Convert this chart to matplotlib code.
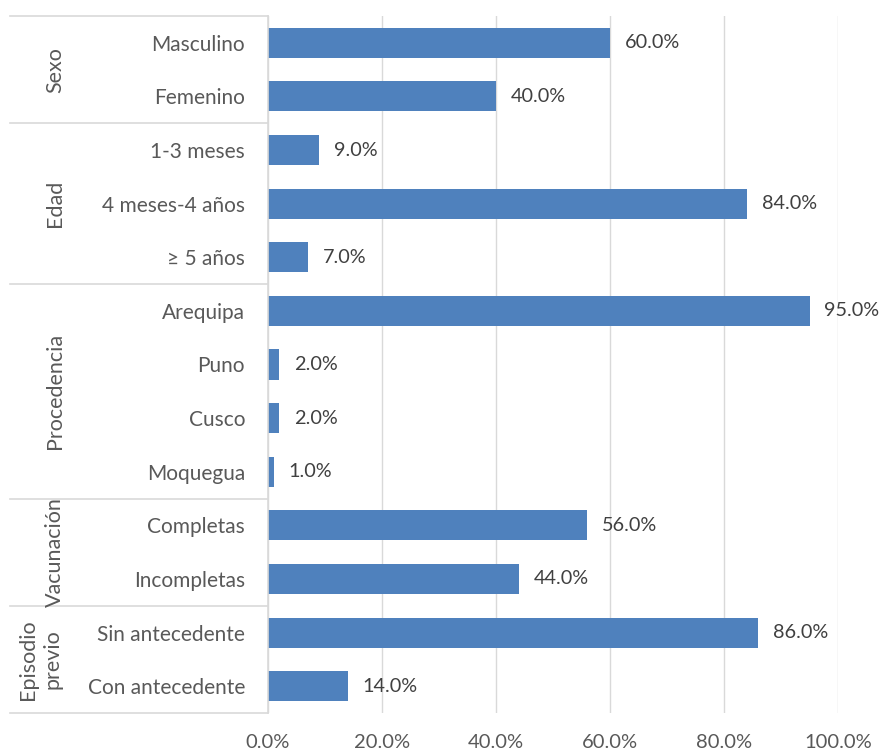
import matplotlib.pyplot as plt
import numpy as np
from matplotlib.transforms import blended_transform_factory

# Datos
categorias = ['Masculino', 'Femenino',
              '1-3 meses', '4 meses-4 años', '≥ 5 años',
              'Arequipa', 'Puno', 'Cusco', 'Moquegua',
              'Completas', 'Incompletas',
              'Sin antecedente', 'Con antecedente']
valores = [60.0, 40.0, 9.0, 84.0, 7.0, 95.0, 2.0, 2.0, 1.0, 56.0, 44.0, 86.0, 14.0]
grupos = ['Sexo', 'Edad', 'Procedencia', 'Vacunación', 'Episodio\nprevio']
tam_grupos = [2, 3, 4, 2, 2]
ticks_x = [0, 20, 40, 60, 80, 100]

plt.rcParams['font.family'] = ['Lato', 'DejaVu Sans']

W, H = 880, 755
fig = plt.figure(figsize=(W / 100, H / 100), dpi=100)
ax = fig.add_axes([268 / W, 1 - 713 / H, (838 - 268) / W, (713 - 16) / H])

y = np.arange(len(categorias))
ax.barh(y, valores, height=0.56, color='#4F81BD')
ax.set_ylim(len(categorias) - 0.5, -0.5)
ax.set_xlim(0, 100)

for yi, v in zip(y, valores):
    ax.text(v + 2.6, yi, f'{v:.1f}%', va='center', ha='left', fontsize=14.3, color='#404040')

ax.set_xticks(ticks_x)
ax.set_xticklabels([f'{t:.1f}%' for t in ticks_x], fontsize=14.5, color='#595959')
ax.tick_params(axis='x', length=0, pad=15)
ax.set_yticks(y)
ax.set_yticklabels(categorias, fontsize=15, color='#595959')
ax.tick_params(axis='y', length=0, pad=16.5)
ax.grid(axis='x', color='#D9D9D9', linewidth=1)
ax.set_axisbelow(True)
for s in ['top', 'right', 'bottom']:
    ax.spines[s].set_visible(False)
ax.spines['left'].set_color('#D9D9D9')
ax.spines['left'].set_linewidth(1.2)

# separadores de grupos
tr = blended_transform_factory(fig.transFigure, ax.transData)
limites = np.concatenate([[0], np.cumsum(tam_grupos)]) - 0.5
for b in limites:
    ax.plot([10 / W, 268 / W], [b, b], transform=tr, color='#D9D9D9',
            linewidth=1.2, clip_on=False)

for i, g in enumerate(grupos):
    centro = (limites[i] + limites[i + 1]) / 2
    xg = 40 / W if '\n' in g else 55 / W
    ax.text(xg, centro, g, transform=tr, rotation=90, ha='center', va='center',
            fontsize=15.5, color='#595959', linespacing=1.25)

fig.savefig('out.png', dpi=100)
